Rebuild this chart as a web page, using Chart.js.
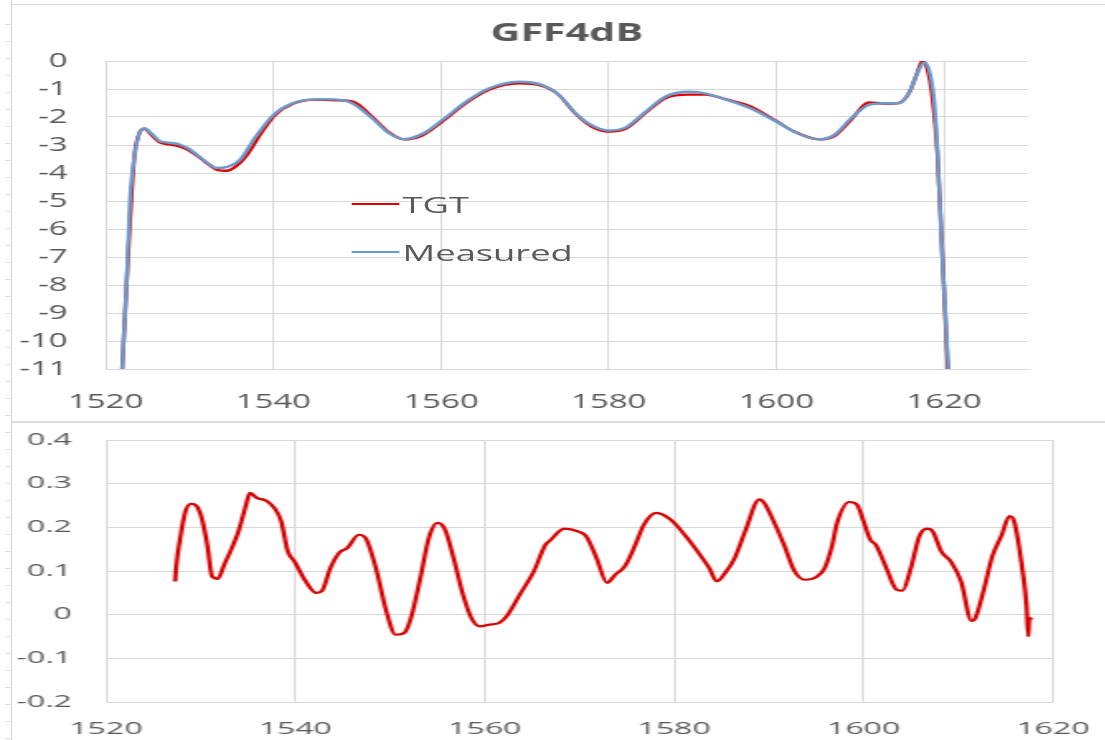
<!DOCTYPE html>
<html>
<head>
<meta charset="utf-8">
<script src="https://cdn.jsdelivr.net/npm/chart.js@4/dist/chart.umd.min.js"></script>
<style>
body { margin: 0; background: #fff; }
#page { position: relative; width: 1105px; height: 740px; overflow: hidden; background: #fff; }
.stretch { position: absolute; left: 0; transform-origin: 0 0; }
.rule_v { position: absolute; left: 11px; top: 0; width: 1px; height: 740px; background: #d6d6d6; }
.rule_ticks { position: absolute; left: 5px; top: 8px; width: 6px; height: 732px;
  background: repeating-linear-gradient(to bottom, transparent 0 16px, #dedede 16px 17px); }
.rule_h { position: absolute; left: 11px; height: 1px; width: 1094px; background: #d6d6d6; }
.legend_row { position: absolute; height: 28px; display: flex; align-items: center;
  font-family: 'Open Sans', sans-serif; font-size: 22px; color: #595959; white-space: nowrap; }
.legend_line { display: inline-block; width: 29px; height: 2px; margin-right: 2px; }
</style>
</head>
<body>
<div id="page">
  <div class="rule_v"></div>
  <div class="rule_ticks"></div>
  <div class="rule_h" style="top:4px"></div>
  <div class="rule_h" style="top:421px; height:2px; background:#dcdcdc"></div>
  <div class="stretch" id="top_wrap" style="top:0; width:670px; height:420px; transform:scaleX(1.65)">
    <canvas id="gff" width="670" height="420" style="width:670px;height:420px"></canvas>
  </div>
  <div class="stretch" style="top:420px; width:553px; height:320px; transform:scaleX(2)">
    <canvas id="diff" width="553" height="320" style="width:553px;height:320px"></canvas>
  </div>
</div>
<script>
// top chart: target and measured filter shape (dB)
var tgtX = [1521.8, 1522.5, 1523.4, 1524.0, 1524.6, 1525.5, 1526.4, 1527.6, 1528.8, 1530.0,
    1531.2, 1532.4, 1533.4, 1534.4, 1535.6, 1537.0, 1538.5, 1540.2, 1542.3, 1545.0,
    1547.5, 1549.5, 1551.8, 1553.8, 1555.6, 1557.8, 1560.2, 1563.0, 1565.7, 1569.3,
    1572.0, 1574.0, 1576.0, 1578.0, 1580.0, 1582.0, 1584.4, 1586.8, 1589.5, 1591.5,
    1594.1, 1596.9, 1600.0, 1602.1, 1605.1, 1606.9, 1608.9, 1611.0, 1613.0, 1614.6,
    1615.8, 1616.8, 1617.4, 1618.0, 1618.6, 1619.2, 1619.8, 1620.6];
var tgtY = [-12, -8, -3.5, -2.6, -2.42, -2.65, -2.9, -2.98, -3.05, -3.2,
    -3.45, -3.72, -3.9, -3.92, -3.75, -3.3, -2.6, -1.93, -1.53, -1.38,
    -1.4, -1.45, -2.0, -2.55, -2.8, -2.65, -2.15, -1.5, -1.03, -0.8,
    -0.88, -1.2, -1.87, -2.35, -2.52, -2.42, -1.85, -1.32, -1.2, -1.2,
    -1.38, -1.62, -2.15, -2.52, -2.8, -2.68, -2.1, -1.48, -1.52, -1.5,
    -1.15, -0.42, 0.0, -0.3, -1.3, -3.3, -7, -12];

var measX = [1521.8, 1522.0, 1522.5, 1522.9, 1523.4, 1524.0, 1524.6, 1525.5, 1526.4, 1527.6,
    1528.8, 1530.0, 1531.2, 1532.2, 1533.2, 1534.5, 1536.0, 1537.9, 1540.0, 1542.3,
    1545.1, 1547.1, 1549.4, 1551.8, 1553.8, 1555.6, 1557.8, 1560.2, 1563.0, 1565.7,
    1569.3, 1572.0, 1574.0, 1576.0, 1578.0, 1580.0, 1582.0, 1584.4, 1586.8, 1589.5,
    1591.3, 1594.1, 1596.9, 1600.0, 1602.1, 1605.1, 1606.9, 1608.9, 1611.0, 1613.0,
    1614.6, 1615.8, 1616.8, 1617.6, 1618.2, 1618.8, 1619.2, 1619.7, 1620.5, 1621.0];
var measY = [-13, -11, -8, -5, -3.5, -2.6, -2.4, -2.6, -2.85, -2.92,
    -2.98, -3.15, -3.42, -3.65, -3.82, -3.78, -3.54, -2.7, -1.93, -1.51,
    -1.37, -1.37, -1.51, -2.05, -2.58, -2.79, -2.6, -2.1, -1.45, -0.98,
    -0.74, -0.85, -1.2, -1.85, -2.3, -2.48, -2.38, -1.81, -1.27, -1.1,
    -1.15, -1.39, -1.69, -2.17, -2.52, -2.8, -2.64, -2.05, -1.57, -1.51,
    -1.51, -1.15, -0.44, -0.06, -0.32, -1.39, -3.2, -6.5, -11, -13];

// bottom chart: difference
var diffX = [1527.3, 1527.4, 1527.9, 1528.4, 1529.0, 1529.6, 1530.1, 1530.7, 1531.2, 1531.8,
    1532.5, 1533.3, 1534.0, 1534.8, 1535.2, 1535.9, 1537.0, 1537.9, 1538.5, 1539.2,
    1539.9, 1541.1, 1542.2, 1542.8, 1543.7, 1544.6, 1545.5, 1546.7, 1547.4, 1548.5,
    1549.6, 1550.6, 1551.5, 1552.2, 1553.2, 1554.1, 1555.0, 1555.8, 1556.7, 1557.7,
    1558.6, 1559.5, 1560.4, 1561.5, 1562.3, 1563.7, 1565.2, 1566.4, 1566.9, 1568.4,
    1569.9, 1570.7, 1571.8, 1572.9, 1573.8, 1574.8, 1575.9, 1576.8, 1578.1, 1579.6,
    1581.1, 1582.6, 1583.7, 1584.5, 1585.4, 1586.4, 1587.5, 1589.0, 1589.5, 1590.5,
    1591.6, 1592.7, 1593.8, 1595.0, 1595.9, 1596.7, 1597.2, 1598.5, 1599.3, 1600.0,
    1600.7, 1601.3, 1602.4, 1603.5, 1604.1, 1605.0, 1605.9, 1606.7, 1607.3, 1608.2,
    1609.2, 1610.3, 1611.4, 1611.8, 1612.7, 1613.6, 1614.6, 1615.4, 1615.9, 1616.8,
    1617.2, 1617.4, 1617.5, 1617.8];
var diffY = [0.076, 0.107, 0.183, 0.237, 0.254, 0.248, 0.222, 0.16, 0.088, 0.082,
    0.115, 0.153, 0.191, 0.252, 0.279, 0.268, 0.26, 0.241, 0.214, 0.145,
    0.122, 0.076, 0.05, 0.054, 0.107, 0.141, 0.153, 0.183, 0.176, 0.107,
    0.008, -0.046, -0.042, -0.008, 0.084, 0.176, 0.21, 0.195, 0.13, 0.046,
    -0.008, -0.027, -0.023, -0.019, -0.004, 0.046, 0.1, 0.16, 0.17, 0.197,
    0.19, 0.18, 0.13, 0.073, 0.092, 0.111, 0.16, 0.206, 0.233, 0.218,
    0.183, 0.141, 0.107, 0.076, 0.096, 0.13, 0.191, 0.264, 0.256, 0.214,
    0.16, 0.1, 0.08, 0.086, 0.107, 0.16, 0.21, 0.258, 0.252, 0.214,
    0.172, 0.16, 0.107, 0.057, 0.055, 0.107, 0.18, 0.197, 0.191, 0.145,
    0.122, 0.076, -0.014, -0.008, 0.057, 0.134, 0.183, 0.226, 0.214, 0.099,
    0.023, -0.05, -0.008, -0.011];

var FONT = "'Open Sans', sans-serif";
var TEXT = '#595959';
var GRID = '#d9d9d9';

function points(xs, ys) {
    var data = [];
    for (var i = 0; i < xs.length; i++) {
        data.push({x: xs[i], y: ys[i]});
    }
    return data;
}

function plainNum(v) {
    return String(Math.round(v * 10) / 10);
}

// fixed axis sizes so the plot area lands where the original's does;
// label overflow padding is dropped so layout.padding alone decides it
function fixWidth(w) {
    return function(scale) {
        scale.width = w;
        scale.paddingTop = 0;
        scale.paddingBottom = 0;
    };
}
function fixHeight(h) {
    return function(scale) {
        scale.height = h;
        scale.paddingLeft = 0;
        scale.paddingRight = 0;
    };
}

var gffChart = new Chart(document.getElementById('gff').getContext('2d'), {
    type: 'line',
    data: {
        datasets: [
            {label: 'TGT', data: points(tgtX, tgtY), borderColor: '#e00000', order: 1},
            {label: 'Measured', data: points(measX, measY), borderColor: '#6a9bcc', order: 0},
        ]
    },
    options: {
        responsive: false,
        animation: false,
        layout: {padding: {left: 0, right: 47, top: 0, bottom: 0}},
        elements: {
            point: {radius: 0},
            line: {borderWidth: 2.4, cubicInterpolationMode: 'monotone'},
        },
        plugins: {
            legend: {display: false},
            tooltip: {enabled: false},
            title: {
                display: true,
                fullSize: false, // centred over the plot, like Excel does
                text: 'GFF4dB',
                color: TEXT,
                font: {family: FONT, size: 25, weight: 'bold'},
                padding: {top: 19, bottom: 12},
            },
        },
        scales: {
            x: {
                type: 'linear',
                min: 1520,
                max: 1630,
                afterFit: fixHeight(51),
                grid: {color: GRID, drawTicks: false},
                border: {color: GRID},
                ticks: {
                    stepSize: 20,
                    includeBounds: false,
                    padding: 21,
                    color: TEXT,
                    font: {family: FONT, size: 20},
                    callback: function(v) { return String(v); },
                },
            },
            y: {
                min: -11,
                max: 0,
                afterFit: fixWidth(64),
                grid: {color: GRID, drawTicks: false},
                border: {color: GRID},
                ticks: {
                    stepSize: 1,
                    padding: 23,
                    color: TEXT,
                    font: {family: FONT, size: 20},
                    callback: plainNum,
                },
            },
        },
    },
});

// legend placed inside the plot, as in the original
var legendTop = [190, 238];
var legendSets = gffChart.data.datasets;
for (var i = 0; i < legendSets.length; i++) {
    var row = document.createElement('div');
    row.className = 'legend_row';
    row.style.left = '213px';
    row.style.top = legendTop[i] + 'px';
    var sw = document.createElement('span');
    sw.className = 'legend_line';
    sw.style.background = legendSets[i].borderColor;
    row.appendChild(sw);
    row.appendChild(document.createTextNode(legendSets[i].label));
    document.getElementById('top_wrap').appendChild(row);
}

var diffChart = new Chart(document.getElementById('diff').getContext('2d'), {
    type: 'line',
    data: {
        datasets: [
            {label: 'diff', data: points(diffX, diffY), borderColor: '#d40000'},
        ]
    },
    options: {
        responsive: false,
        animation: false,
        layout: {padding: {left: 0, right: 26.5, top: 20, bottom: 0}},
        elements: {
            point: {radius: 0},
            line: {borderWidth: 2.2, cubicInterpolationMode: 'monotone'},
        },
        plugins: {
            legend: {display: false},
            tooltip: {enabled: false},
        },
        scales: {
            x: {
                type: 'linear',
                min: 1520,
                max: 1620,
                afterFit: fixHeight(38),
                grid: {color: GRID, drawTicks: false},
                border: {color: GRID},
                ticks: {
                    stepSize: 20,
                    padding: 18,
                    color: TEXT,
                    font: {family: FONT, size: 16},
                    callback: function(v) { return String(v); },
                },
            },
            y: {
                min: -0.2,
                max: 0.4,
                afterFit: fixWidth(53),
                grid: {color: GRID, drawTicks: false},
                border: {color: GRID},
                ticks: {
                    stepSize: 0.1,
                    padding: 17,
                    color: TEXT,
                    font: {family: FONT, size: 16},
                    callback: plainNum,
                },
            },
        },
    },
});
</script>
</body>
</html>
